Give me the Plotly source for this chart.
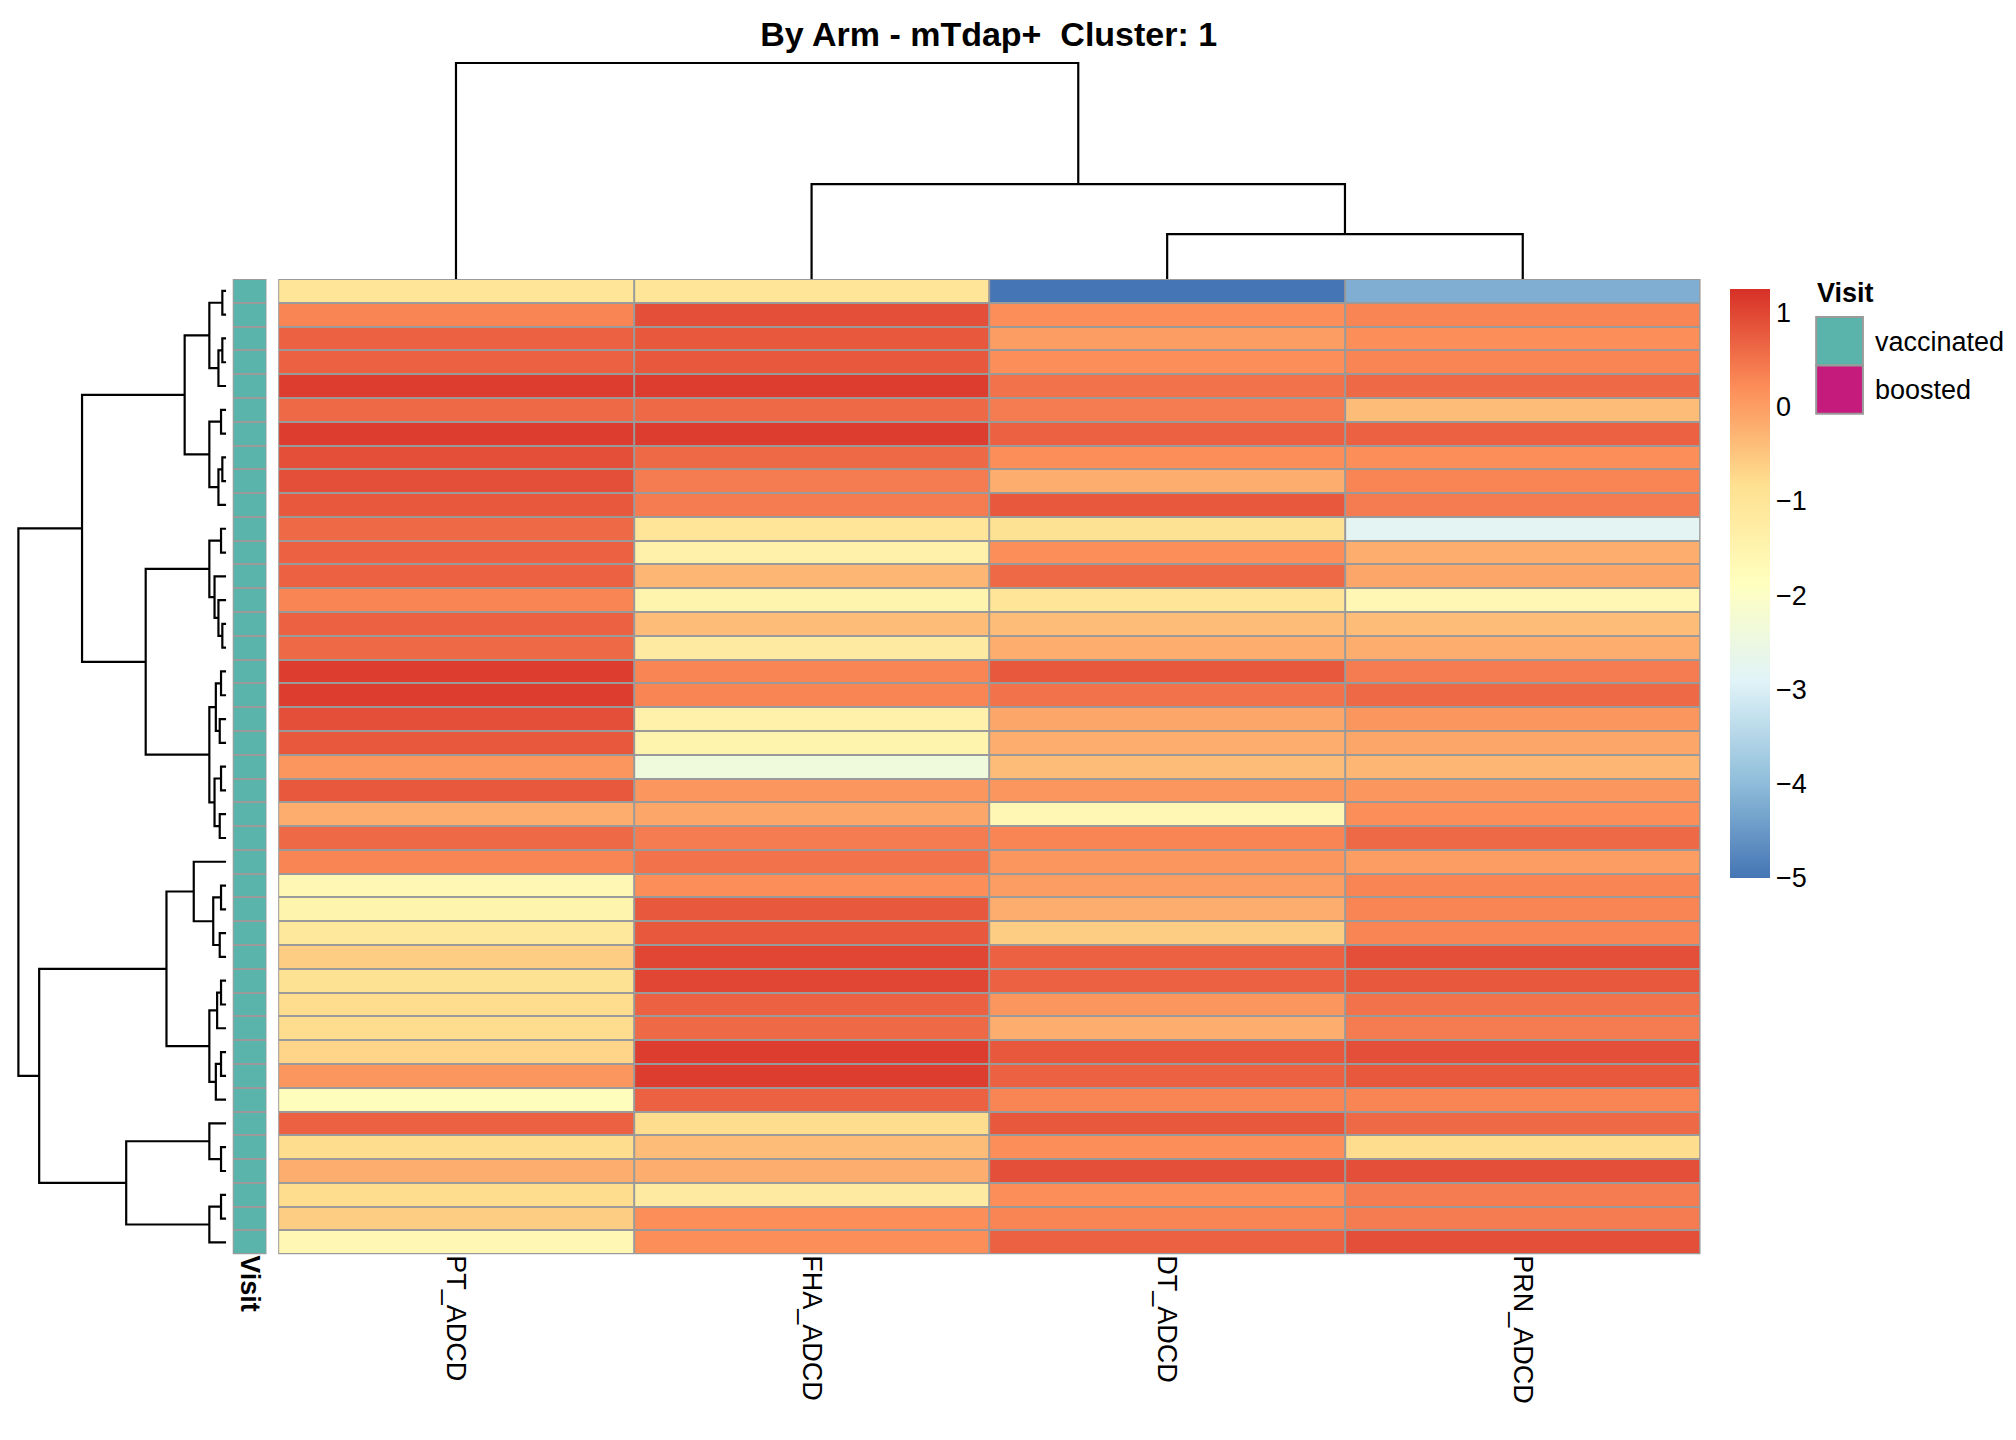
import plotly.graph_objects as go

COLS = ["PT_ADCD", "FHA_ADCD", "DT_ADCD", "PRN_ADCD"]
PT = [-1.0, 0.3, 0.7, 0.7, 1.1, 0.6, 1.1, 0.9, 0.9, 0.8, 0.6, 0.7, 0.7, 0.3, 0.7, 0.6, 1.1, 1.1, 0.9, 0.8,
      0.1, 0.8, -0.2, 0.6, 0.3, -1.6, -1.5, -1.1, -0.6, -0.9, -0.8, -0.8, -0.7, 0.1, -1.8, 0.7, -0.8, -0.2,
      -0.8, -0.6, -1.6]
FHA = [-1.0, 0.9, 0.8, 0.8, 1.1, 0.6, 1.1, 0.6, 0.4, 0.4, -1.0, -1.4, -0.3, -1.5, -0.4, -1.2, 0.3, 0.3, -1.4,
       -1.5, -2.4, 0.1, -0.1, 0.4, 0.5, 0.2, 0.8, 0.8, 1.0, 1.0, 0.7, 0.6, 1.1, 1.1, 0.7, -0.8, -0.4, -0.2,
       -1.2, 0.2, 0.2]
DT = [-5.0, 0.2, 0.0, 0.2, 0.5, 0.4, 0.7, 0.2, -0.2, 0.8, -0.9, 0.2, 0.6, -1.0, -0.4, -0.2, 0.8, 0.5, -0.1,
      -0.2, -0.4, 0.1, -1.6, 0.3, 0.1, 0.0, -0.2, -0.6, 0.7, 0.7, 0.1, -0.2, 0.8, 0.7, 0.3, 0.8, 0.2, 0.9,
      0.2, 0.3, 0.7]
PRN = [-4.2, 0.3, 0.2, 0.3, 0.6, -0.4, 0.7, 0.2, 0.3, 0.4, -2.8, -0.2, -0.1, -1.6, -0.4, -0.2, 0.4, 0.6, 0.1,
       -0.1, -0.3, 0.1, 0.2, 0.6, 0.0, 0.3, 0.3, 0.3, 0.9, 0.8, 0.5, 0.4, 0.9, 0.8, 0.3, 0.6, -0.8, 0.9,
       0.4, 0.4, 0.9]
VISIT = ["vaccinated"] * len(PT)

# merge trees: [left, right, height]; leaves are row / column indices
COL_TREE = [0, [1, [2, 3, 34], 72], 164]
A = [[[0, 1, 3], [[2, 3, 3], 4, 6], 13], [[5, 6, 4], [[7, 8, 3], 9, 6], 13], 32]
B = [[[10, 11, 4], [12, [13, [14, 15, 3], 6], 9], 13],
     [[[16, 17, 4], [18, 19, 5], 8], [[20, 21, 4], [22, 23, 5], 9], 13], 62]
C = [[24, [[25, 26, 4], [27, 28, 5], 10], 25], [[[29, 30, 4], 31, 7], [[32, 33, 4], 34, 8], 13], 46]
D = [[35, [36, 37, 4], 13], [[38, 39, 4], 40, 13], 77]
ROW_TREE = [[A, B, 111], [C, D, 144], 160]

W, H = 2016, 1440


def fx(px):
    return px / 1552


def fy(py):
    return 1 - py / 1100


def dendro(node, segs):
    if isinstance(node, int):
        return node, 0
    lp, lh = dendro(node[0], segs)
    rp, rh = dendro(node[1], segs)
    h = node[2]
    segs.append(((lp, lh), (lp, h), (rp, h), (rp, rh)))
    return (lp + rp) / 2, h


def seg_xy(segs, flip):
    xs, ys = [], []
    for s in segs:
        for p, h in s:
            if flip:
                xs.append(h); ys.append(p)
            else:
                xs.append(p); ys.append(h)
        xs.append(None); ys.append(None)
    return xs, ys


n = len(PT)
z = [[PT[i], FHA[i], DT[i], PRN[i]] for i in range(n)]
rdylbu = ["#4575B4", "#91BFDB", "#E0F3F8", "#FFFFBF", "#FEE090", "#FC8D59", "#D73027"]
cs = [[i / 6, c] for i, c in enumerate(rdylbu)]
visit_cols = {"vaccinated": "#5AB4AC", "boosted": "#C51B7D"}

fig = go.Figure()
fig.add_trace(go.Heatmap(z=z, x=list(range(4)), y=list(range(n)), colorscale=cs, zmin=-5, zmax=1.25,
                         xgap=2, ygap=2, xaxis="x", yaxis="y",
                         colorbar=dict(x=fx(1318), xanchor="left", y=fy(207), yanchor="top",
                                       len=(672 - 207) / 1100, thickness=40, outlinewidth=0,
                                       tickvals=[-5, -4, -3, -2, -1, 0, 1], ticks="",
                                       tickfont=dict(size=27, family="Liberation Sans"))))
fig.add_trace(go.Heatmap(z=[[0] for _ in VISIT], x=[0], y=list(range(n)),
                         colorscale=[[0, visit_cols["vaccinated"]], [1, visit_cols["vaccinated"]]],
                         showscale=False, xgap=2, ygap=2, xaxis="x2", yaxis="y2", hoverinfo="skip"))

segs = []
dendro(ROW_TREE, segs)
xs, ys = seg_xy(segs, True)
fig.add_trace(go.Scatter(x=xs, y=ys, mode="lines", line=dict(color="black", width=2.2),
                         xaxis="x3", yaxis="y3", showlegend=False, hoverinfo="skip"))
segs = []
dendro(COL_TREE, segs)
xs, ys = seg_xy(segs, False)
fig.add_trace(go.Scatter(x=xs, y=ys, mode="lines", line=dict(color="black", width=2.2),
                         xaxis="x4", yaxis="y4", showlegend=False, hoverinfo="skip"))

yr = [n - 0.5, -0.5]
hide = dict(showgrid=False, zeroline=False, showticklabels=False, ticks="")
fig.update_layout(
    width=W, height=H, margin=dict(l=0, r=0, t=0, b=0),
    plot_bgcolor="white", paper_bgcolor="white",
    font=dict(family="Liberation Sans", color="black"),
    title=dict(text="<b>By Arm - mTdap+  Cluster: 1</b>", x=fx(755), xanchor="center", y=fy(20),
               yanchor="middle", font=dict(size=34)),
    xaxis=dict(domain=[fx(208), fx(1303)], range=[-0.5, 3.5], tickvals=list(range(4)), ticktext=COLS,
               tickangle=90, showgrid=False, zeroline=False, tickfont=dict(size=27), ticks=""),
    yaxis=dict(domain=[fy(952), fy(207)], range=yr, **hide),
    xaxis2=dict(domain=[fx(173), fx(199)], range=[-0.5, 0.5], tickvals=[0], ticktext=["<b>Visit</b>"],
                tickangle=90, showgrid=False, zeroline=False, tickfont=dict(size=27), ticks=""),
    yaxis2=dict(domain=[fy(952), fy(207)], range=yr, anchor="x2", **hide),
    xaxis3=dict(domain=[fx(6), fx(168)], range=[162, 0], anchor="y3", **hide),
    yaxis3=dict(domain=[fy(952), fy(207)], range=yr, anchor="x3", **hide),
    xaxis4=dict(domain=[fx(208), fx(1303)], range=[-0.5, 3.5], anchor="y4", **hide),
    yaxis4=dict(domain=[fy(207), fy(41)], range=[0, 165], anchor="x4", **hide),
)
for xa, x0, x1 in [("x", fx(208), fx(1303)), ("x2", fx(173), fx(199))]:
    fig.add_shape(type="rect", xref="paper", yref="paper", x0=x0, x1=x1, y0=fy(952), y1=fy(207),
                  fillcolor="#9a9a9a", line=dict(width=0), layer="below")

# Visit legend
fig.add_annotation(text="<b>Visit</b>", xref="paper", yref="paper", x=fx(1391), y=fy(218),
                   xanchor="left", yanchor="middle", showarrow=False, font=dict(size=27))
for i, (lab, col) in enumerate(visit_cols.items()):
    top = 236 + i * 37
    fig.add_shape(type="rect", xref="paper", yref="paper", x0=fx(1392), x1=fx(1428),
                  y0=fy(top + 37), y1=fy(top), fillcolor=col, line=dict(color="#9a9a9a", width=2))
    fig.add_annotation(text=lab, xref="paper", yref="paper", x=fx(1436), y=fy(top + 19),
                       xanchor="left", yanchor="middle", showarrow=False, font=dict(size=27))

fig.write_html("out.html")
